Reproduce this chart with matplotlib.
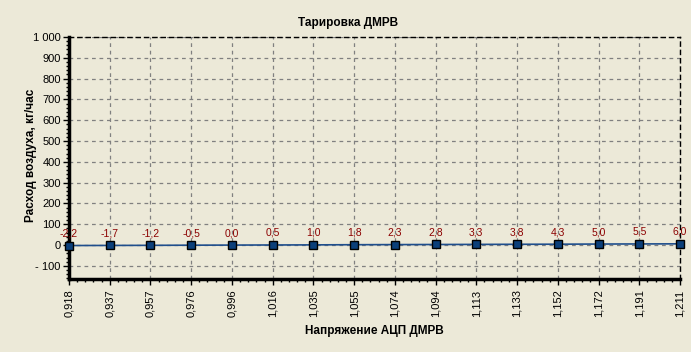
import numpy as np
import matplotlib.pyplot as plt
from matplotlib.ticker import MultipleLocator, FuncFormatter

# Calibration data: ADC voltage vs air flow
voltage = ['0,918', '0,937', '0,957', '0,976', '0,996', '1,016', '1,035', '1,055',
           '1,074', '1,094', '1,113', '1,133', '1,152', '1,172', '1,191', '1,211']
flow = [-2.2, -1.7, -1.2, -0.5, 0.0, 0.5, 1.0, 1.8, 2.3, 2.8, 3.3, 3.8, 4.3, 5.0, 5.5, 6.0]

bg = '#ECE9D8'
plt.rcParams['font.family'] = ['Liberation Sans', 'DejaVu Sans']


def fmt_y(v, p):
    s = f'{abs(int(v)):,}'.replace(',', ' ')
    return '- ' + s if v < 0 else s


fig = plt.figure(figsize=(6.91, 3.52), dpi=100, facecolor=bg)
ax = fig.add_axes([69 / 691, 1 - 279 / 352, (680 - 69) / 691, (279 - 37) / 352])
ax.set_facecolor(bg)

x = np.arange(len(voltage))
ax.plot(x, flow, color='#1F4E8C', lw=1.2, zorder=3)
ax.plot(x, flow, ls='none', marker='s', ms=5.5, mfc='#0B3F7A', mec='black',
        mew=1.0, zorder=4, clip_on=False)
for xi, v in zip(x, flow):
    ax.annotate(f'{v:.1f}'.replace('.', ','), (xi, v), xytext=(0, 12),
                textcoords='offset pixels', ha='center', va='center',
                fontsize=7.5, color='#8B0000')

ax.set_xlim(0, len(voltage) - 1)
ax.set_ylim(-163, 1000)
ax.set_xticks(x)
ax.set_xticklabels(voltage, rotation=90, fontsize=8)
ax.xaxis.set_minor_locator(MultipleLocator(0.2))
ax.yaxis.set_major_locator(MultipleLocator(100))
ax.yaxis.set_minor_locator(MultipleLocator(20))
ax.yaxis.set_major_formatter(FuncFormatter(fmt_y))
ax.tick_params(axis='y', labelsize=8, pad=2)
ax.tick_params(which='major', length=4, width=1, color='black')
ax.tick_params(which='minor', length=2, width=1, color='black')

ax.grid(True, which='major', ls=(0, (3, 3)), color='#808080', lw=0.9)
for s in ['left', 'bottom']:
    ax.spines[s].set_linewidth(2.5)
for s in ['top', 'right']:
    ax.spines[s].set_linestyle((0, (3, 3)))
    ax.spines[s].set_linewidth(1)

fig.text(348 / 691, 1 - 23 / 352, 'Тарировка ДМРВ', ha='center', va='center',
         fontsize=8.5, fontweight='bold')
fig.text(374 / 691, 1 - 331 / 352, 'Напряжение АЦП ДМРВ', ha='center', va='center',
         fontsize=8.5, fontweight='bold')
fig.text(31 / 691, 1 - 155 / 352, 'Расход воздуха, кг/час', ha='center', va='center',
         rotation=90, fontsize=8.5, fontweight='bold')

fig.savefig('out.png', dpi=100, facecolor=bg)
